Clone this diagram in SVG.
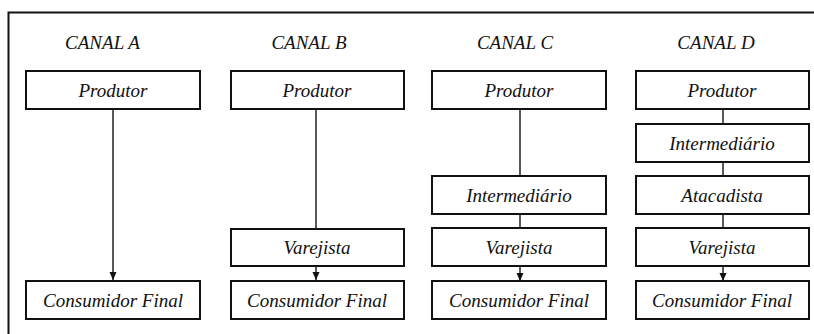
<svg xmlns="http://www.w3.org/2000/svg" width="814" height="334" viewBox="0 0 814 334">
<defs>
<marker id="arr" viewBox="0 0 8 8" refX="8" refY="4" markerWidth="8" markerHeight="8" markerUnits="userSpaceOnUse" orient="auto">
<path d="M0,0.5 L8,4 L0,7.5 Z" fill="#111"/>
</marker>
<style>
.box{fill:#fff;stroke:#111;stroke-width:2}
.t{font-family:'Liberation Serif','Times New Roman',Times,serif;font-style:italic;font-size:19px;fill:#111;text-anchor:middle}
.c{stroke:#222;stroke-width:1.5;fill:none}
.a{marker-end:url(#arr)}
</style>
</defs>
<rect width="814" height="334" fill="#fff"/>
<path d="M8.5,340 V12.5 H820" fill="none" stroke="#111" stroke-width="2"/>
<g id="titles">
<text class="t" x="102.5" y="49">CANAL A</text>
<text class="t" x="309" y="49">CANAL B</text>
<text class="t" x="515" y="49">CANAL C</text>
<text class="t" x="716" y="49">CANAL D</text>
</g>
<g id="connectors">
<line class="c a" x1="113" y1="110" x2="113" y2="280"/>
<line class="c" x1="316" y1="110" x2="316" y2="229"/>
<line class="c a" x1="316" y1="266" x2="316" y2="280"/>
<line class="c" x1="520" y1="110" x2="520" y2="176"/>
<line class="c" x1="520" y1="214" x2="520" y2="228"/>
<line class="c a" x1="520" y1="267" x2="520" y2="281"/>
<line class="c" x1="723" y1="110" x2="723" y2="124"/>
<line class="c" x1="723" y1="162" x2="723" y2="176"/>
<line class="c" x1="723" y1="214" x2="723" y2="228"/>
<line class="c a" x1="723" y1="267" x2="723" y2="281"/>
</g>
<g id="a-produtor"><rect class="box" x="26" y="71" width="174" height="38"/><text class="t" x="113" y="97">Produtor</text></g>
<g id="a-consumidor"><rect class="box" x="26" y="281" width="174" height="38"/><text class="t" x="113" y="307">Consumidor Final</text></g>
<g id="b-produtor"><rect class="box" x="231" y="71" width="173" height="38"/><text class="t" x="317" y="97">Produtor</text></g>
<g id="b-varejista"><rect class="box" x="231" y="229" width="173" height="37"/><text class="t" x="317" y="254">Varejista</text></g>
<g id="b-consumidor"><rect class="box" x="231" y="281" width="173" height="38"/><text class="t" x="317" y="307">Consumidor Final</text></g>
<g id="c-produtor"><rect class="box" x="432" y="71" width="174" height="38"/><text class="t" x="519" y="97">Produtor</text></g>
<g id="c-intermediario"><rect class="box" x="432" y="176" width="174" height="38"/><text class="t" x="519" y="202">Intermediário</text></g>
<g id="c-varejista"><rect class="box" x="432" y="228" width="174" height="38"/><text class="t" x="519" y="254">Varejista</text></g>
<g id="c-consumidor"><rect class="box" x="432" y="281" width="174" height="38"/><text class="t" x="519" y="307">Consumidor Final</text></g>
<g id="d-produtor"><rect class="box" x="636" y="71" width="173" height="38"/><text class="t" x="722" y="97">Produtor</text></g>
<g id="d-intermediario"><rect class="box" x="636" y="124" width="173" height="38"/><text class="t" x="722" y="150">Intermediário</text></g>
<g id="d-atacadista"><rect class="box" x="636" y="176" width="173" height="38"/><text class="t" x="722" y="202">Atacadista</text></g>
<g id="d-varejista"><rect class="box" x="636" y="228" width="173" height="38"/><text class="t" x="722" y="254">Varejista</text></g>
<g id="d-consumidor"><rect class="box" x="636" y="281" width="173" height="38"/><text class="t" x="722" y="307">Consumidor Final</text></g>
</svg>
